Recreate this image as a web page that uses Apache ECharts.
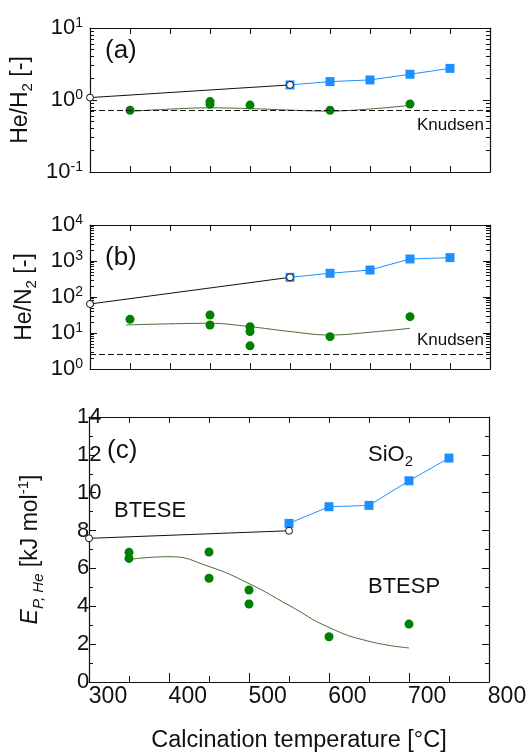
<!DOCTYPE html>
<html>
<head>
<meta charset="utf-8">
<script src="https://cdn.jsdelivr.net/npm/echarts@6/dist/echarts.min.js"></script>
<style>
  html, body { margin: 0; padding: 0; background: #fff; }
  #chart { width: 530px; height: 756px; }
</style>
</head>
<body>
<div id="chart"></div>
<script>
// calcination temperatures
const xTicks = [300, 400, 500, 600, 700, 800];

// BTESE (open circles)
const bteseT = [300, 550];
const bteseH2 = [1.08, 1.62];
const bteseN2 = [64, 352];
const bteseEp = [7.59, 7.99];

// SiO2 (blue squares)
const sio2T = [550, 600, 650, 700, 750];
const sio2H2 = [1.62, 1.80, 1.90, 2.28, 2.75];
const sio2N2 = [352, 455, 562, 1137, 1240];
const sio2Ep = [8.38, 9.26, 9.33, 10.63, 11.83];

// BTESP (green dots)
const btespTa = [350, 450, 450, 500, 600, 700];
const btespH2 = [0.72, 0.95, 0.87, 0.85, 0.72, 0.88];
const btespTb = [350, 450, 450, 500, 500, 500, 600, 700];
const btespN2 = [24, 31.6, 16.7, 15, 11, 4.4, 7.9, 28.4];
const btespTc = [350, 350, 450, 450, 500, 500, 600, 700];
const btespEp = [6.85, 6.53, 6.87, 5.48, 4.86, 4.12, 2.39, 3.06];

// BTESP trend lines
const fitTa = [345, 450, 500, 600, 700];
const fitH2 = [0.69, 0.78, 0.76, 0.70, 0.84];
const fitTb = [345, 450, 500, 550, 600, 650, 700];
const fitN2 = [16.7, 18.6, 15, 11, 8.8, 10.5, 13.5];
const fitTc = [355, 400, 450, 500, 550, 600, 650, 700];
const fitEp = [6.5, 6.62, 6.1, 5.2, 4.05, 2.88, 2.15, 1.8];

// Knudsen selectivities
const knudsenH2 = 0.707;
const knudsenN2 = 2.65;

// decades of the two log axes, minor ticks at 2..9 of each
const decadesA = [-1, 0];
const decadesB = [0, 1, 2, 3];
const minorMult = [2, 3, 4, 5, 6, 7, 8, 9];
const minorLog = decades => decades.flatMap(d => minorMult.map(m => d + Math.log10(m)));

const FONT = 'Liberation Sans, Arial, sans-serif';
const INK = '#111';
const BLUE = '#1E8FFF';
const GREEN = '#008000';
const FIT = '#4a6b36';

const pairs = (xs, ys) => xs.map((x, i) => [x, ys[i]]);

const chart = echarts.init(document.getElementById('chart'), null, { renderer: 'canvas' });

const line = { onZero: false, lineStyle: { color: INK, width: 1.2 } };

function xAxisFor(grid, pos, opts) {
  return Object.assign({
    type: 'value', gridIndex: grid, position: pos, min: 300, max: 800, interval: 50,
    axisLine: line,
    axisTick: { inside: true, length: 6, lineStyle: { color: INK, width: 1 } },
    axisLabel: { show: false },
    splitLine: { show: false }
  }, opts || {});
}

const supRich = {
  b: { fontSize: 22, lineHeight: 24, fontFamily: FONT, color: INK },
  s: { fontSize: 14, lineHeight: 12, fontFamily: FONT, color: INK, verticalAlign: 'top' }
};

const nameRich = {
  t: { fontSize: 23, lineHeight: 30, fontFamily: FONT, color: INK },
  i: { fontSize: 23, lineHeight: 30, fontFamily: FONT, color: INK, fontStyle: 'italic' },
  s: { fontSize: 15, lineHeight: 15, fontFamily: FONT, color: INK, verticalAlign: 'bottom' },
  is: { fontSize: 15, lineHeight: 15, fontFamily: FONT, color: INK, verticalAlign: 'bottom', fontStyle: 'italic' },
  p: { fontSize: 15, lineHeight: 15, fontFamily: FONT, color: INK, verticalAlign: 'top' }
};

function logY(grid, min, max, pos, label, name) {
  const ax = {
    type: 'log', gridIndex: grid, position: pos, min: min, max: max, logBase: 10,
    axisLine: line,
    axisTick: { inside: true, length: 7, lineStyle: { color: INK, width: 1 } },
    minorTick: { show: false },
    splitLine: { show: false },
    axisLabel: label ? {
      margin: 7,
      formatter: v => '{b|10}{s|' + Math.round(Math.log10(v)) + '}',
      rich: supRich
    } : { show: false }
  };
  if (name) {
    ax.name = name;
    ax.nameLocation = 'middle';
    ax.nameRotate = 90;
    ax.nameGap = 43;
    ax.nameTextStyle = { rich: nameRich };
  }
  return ax;
}

// helper axis in log10 space that only carries the 2..9 minor ticks
function minorY(grid, pos, decades) {
  return {
    type: 'value', gridIndex: grid, position: pos,
    min: decades[0], max: decades[decades.length - 1] + 1,
    axisLine: { show: false, onZero: false },
    axisTick: { show: true, inside: true, length: 4, customValues: minorLog(decades), lineStyle: { color: INK, width: 1 } },
    axisLabel: { show: false },
    splitLine: { show: false }
  };
}

function linY(grid, pos, label, name) {
  const ax = {
    type: 'value', gridIndex: grid, position: pos, min: 0, max: 14, interval: 2,
    axisLine: line,
    axisTick: { inside: true, length: 7, lineStyle: { color: INK, width: 1 } },
    minorTick: { show: true, splitNumber: 2, length: 4, lineStyle: { color: INK, width: 1 } },
    splitLine: { show: false },
    axisLabel: label ? { align: 'left', margin: 12, fontSize: 22, fontFamily: FONT, color: INK } : { show: false }
  };
  if (name) {
    ax.name = name;
    ax.nameLocation = 'middle';
    ax.nameRotate = 90;
    ax.nameGap = 43;
    ax.nameTextStyle = { rich: nameRich };
  }
  return ax;
}

const knudsenLine = (val, dy) => ({
  silent: true,
  symbol: 'none',
  lineStyle: { color: INK, type: [6, 3], width: 1.1 },
  label: {
    show: true, position: 'insideEndBottom', formatter: 'Knudsen', distance: [6, dy],
    fontSize: 17, fontFamily: FONT, color: INK
  },
  data: [{ yAxis: val }]
});

function btese(xi, yi, ys) {
  return {
    type: 'line', xAxisIndex: xi, yAxisIndex: yi, data: pairs(bteseT, ys), z: 5,
    symbol: 'circle', symbolSize: 7, lineStyle: { color: INK, width: 1 },
    itemStyle: { color: '#fff', borderColor: INK, borderWidth: 1 }, clip: false
  };
}
function sio2(xi, yi, ys) {
  return {
    type: 'line', xAxisIndex: xi, yAxisIndex: yi, data: pairs(sio2T, ys), z: 4,
    symbol: 'rect', symbolSize: 9, lineStyle: { color: BLUE, width: 1 },
    itemStyle: { color: BLUE }
  };
}
function btesp(xi, yi, xs, ys, mark) {
  const s = {
    type: 'scatter', xAxisIndex: xi, yAxisIndex: yi, data: pairs(xs, ys), z: 4,
    symbol: 'circle', symbolSize: 9, itemStyle: { color: GREEN, opacity: 1 }
  };
  if (mark) s.markLine = mark;
  return s;
}
function fit(xi, yi, xs, ys, smooth) {
  return {
    type: 'line', xAxisIndex: xi, yAxisIndex: yi, data: pairs(xs, ys), z: 3,
    showSymbol: false, smooth: smooth, lineStyle: { color: FIT, width: 1 }
  };
}

const textStyle = (size) => ({ fontSize: size, fontFamily: FONT, fill: INK });

const option = {
  animation: false,
  backgroundColor: '#fff',
  grid: [
    { left: 90, top: 28, width: 400, height: 144 },
    { left: 90, top: 225, width: 400, height: 144 },
    { left: 89, top: 417, width: 400, height: 265 },
    { left: 108, top: 681, width: 399, height: 1 }
  ],
  xAxis: [
    xAxisFor(0, 'bottom'),
    xAxisFor(0, 'top'),
    xAxisFor(1, 'bottom'),
    xAxisFor(1, 'top'),
    xAxisFor(2, 'bottom', {
      interval: 100,
      axisTick: { inside: true, length: 9, lineStyle: { color: INK, width: 1 } },
      minorTick: { show: true, splitNumber: 2, length: 6, lineStyle: { color: INK, width: 1 } }
    }),
    xAxisFor(2, 'top'),
    {
      type: 'value', gridIndex: 3, min: xTicks[0], max: xTicks[xTicks.length - 1], interval: 100,
      axisLine: { show: false, onZero: false }, axisTick: { show: false }, splitLine: { show: false },
      axisLabel: {
        margin: 3, fontSize: 23, fontFamily: FONT, color: INK,
        customValues: xTicks
      },
      name: 'Calcination temperature [°C]',
      nameLocation: 'middle', nameGap: 47,
      nameTextStyle: { fontSize: 23.5, fontFamily: FONT, color: INK, padding: [0, 17, 0, 0] }
    }
  ],
  yAxis: [
    logY(0, 0.1, 10, 'left', true, '{t|He/H}{s|2}{t| [-]}'),
    logY(0, 0.1, 10, 'right', false),
    logY(1, 1, 10000, 'left', true, '{t|He/N}{s|2}{t| [-]}'),
    logY(1, 1, 10000, 'right', false),
    linY(2, 'left', true, '{i|E}{is|P, He}{t| [kJ mol}{p|-1}{t|]}'),
    linY(2, 'right', false),
    { type: 'value', gridIndex: 3, show: false },
    minorY(0, 'left', decadesA),
    minorY(0, 'right', decadesA),
    minorY(1, 'left', decadesB),
    minorY(1, 'right', decadesB)
  ],
  series: [
    // (a) He/H2
    sio2(0, 0, sio2H2),
    btese(0, 0, bteseH2),
    fit(0, 0, fitTa, fitH2, 0.3),
    btesp(0, 0, btespTa, btespH2, knudsenLine(knudsenH2, 6)),
    // (b) He/N2
    sio2(2, 2, sio2N2),
    btese(2, 2, bteseN2),
    fit(2, 2, fitTb, fitN2, 0.4),
    btesp(2, 2, btespTb, btespN2, knudsenLine(knudsenN2, -22)),
    // (c) activation energy
    sio2(4, 4, sio2Ep),
    btese(4, 4, bteseEp),
    fit(4, 4, fitTc, fitEp, 0.5),
    btesp(4, 4, btespTc, btespEp)
  ],
  graphic: [
    { type: 'text', left: 105, top: 38, style: Object.assign(textStyle(26), { text: '(a)' }) },
    { type: 'text', left: 105, top: 245, style: Object.assign(textStyle(26), { text: '(b)' }) },
    { type: 'text', left: 107, top: 438, style: Object.assign(textStyle(26), { text: '(c)' }) },
    { type: 'text', left: 114, top: 500, style: Object.assign(textStyle(22), { text: 'BTESE' }) },
    { type: 'text', left: 368, top: 576, style: Object.assign(textStyle(22), { text: 'BTESP' }) },
    {
      type: 'text', left: 368, top: 444,
      style: {
        text: '{t|SiO}{s|2}', fill: INK,
        rich: {
          t: { fontSize: 22, lineHeight: 28, fontFamily: FONT, fill: INK },
          s: { fontSize: 15, lineHeight: 15, fontFamily: FONT, fill: INK, verticalAlign: 'bottom' }
        }
      }
    }
  ]
};

chart.setOption(option);
</script>
</body>
</html>
